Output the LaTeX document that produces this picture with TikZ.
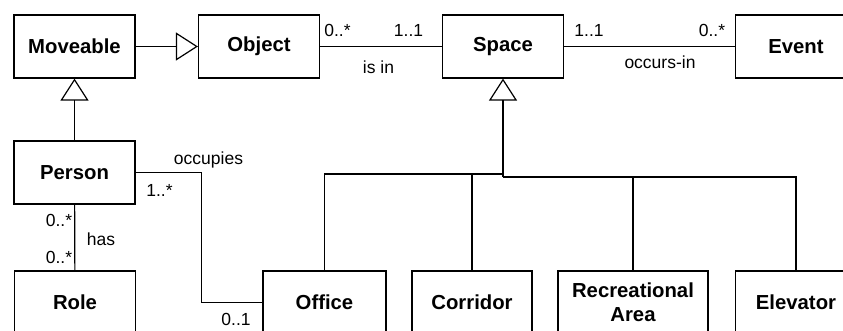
\documentclass[tikz,border=0pt]{standalone}
\usepackage{fontspec}
\setmainfont{Liberation Sans}
\usetikzlibrary{arrows.meta}
\begin{document}
\begin{tikzpicture}[x=1pt,y=-1pt,line width=1.2pt,
    cls/.style={draw,minimum width=121pt,minimum height=63pt,inner sep=0pt,
      align=center,font=\fontsize{20.3}{24}\selectfont\bfseries},
    lbl/.style={inner sep=0pt,font=\fontsize{17.5}{20}\selectfont},
    gen/.style={-{Triangle[open,length=22pt,width=28pt]}}]
    \useasboundingbox (0,0) rectangle (843,330);

    % classes
    \node[cls] (Moveable) at (74.5,46.5) {Moveable};
    \node[cls] (Object) at (259,46.5) {Object};
    \node[cls] (Space) at (503,46.5) {Space};
    \node[cls] (Event) at (796,46.5) {Event};
    \node[cls] (Person) at (74.5,172.5) {Person};
    \node[cls] (Role) at (75,302.5) {Role};
    \node[cls,minimum width=123pt] (Office) at (324.5,302.5) {Office};
    \node[cls,minimum width=120pt] (Corridor) at (472,302.5) {Corridor};
    \node[cls,minimum width=150pt] (Recreational) at (633,302.5) {Recreational\\Area};
    \node[cls] (Elevator) at (796,302.5) {Elevator};

    % generalisations
    \draw[gen] (Moveable) -- (Object);
    \draw[gen] (Person) -- (Moveable);
    \coordinate (T) at (503,174);
    \coordinate (U) at (503,177);
    \draw[gen] (U) -- (Space);
    \draw (Office.north) |- (T);
    \draw (Corridor.north) |- (T);
    \draw (Recreational.north) |- (U);
    \draw (Elevator.north) |- (U);

    % associations
    \draw (Object) -- (Space);
    \draw (Space) -- (Event);
    \draw (Person) -- (Role);
    \draw (Person.east) -- ++(66,0) |- (Office.west);

    % labels
    \node[lbl] (ObjMul) at (337.5,30) {0..*};
    \node[lbl] (SpcMulA) at (408.5,30) {1..1};
    \node[lbl] (IsIn) at (378.5,67) {is in};
    \node[lbl] (SpcMulB) at (589,30) {1..1};
    \node[lbl] (EvtMul) at (712,30) {0..*};
    \node[lbl] (OccursIn) at (660,62) {occurs-in};
    \node[lbl] (Occupies) at (208.5,160) {occupies};
    \node[lbl] (PrsMulA) at (159.5,190) {1..*};
    \node[lbl] (OffMul) at (236,319.5) {0..1};
    \node[lbl] (PrsMulB) at (59,220) {0..*};
    \node[lbl] (Has) at (101,239) {has};
    \node[lbl] (RolMul) at (59,257) {0..*};
  \end{tikzpicture}
\end{document}
